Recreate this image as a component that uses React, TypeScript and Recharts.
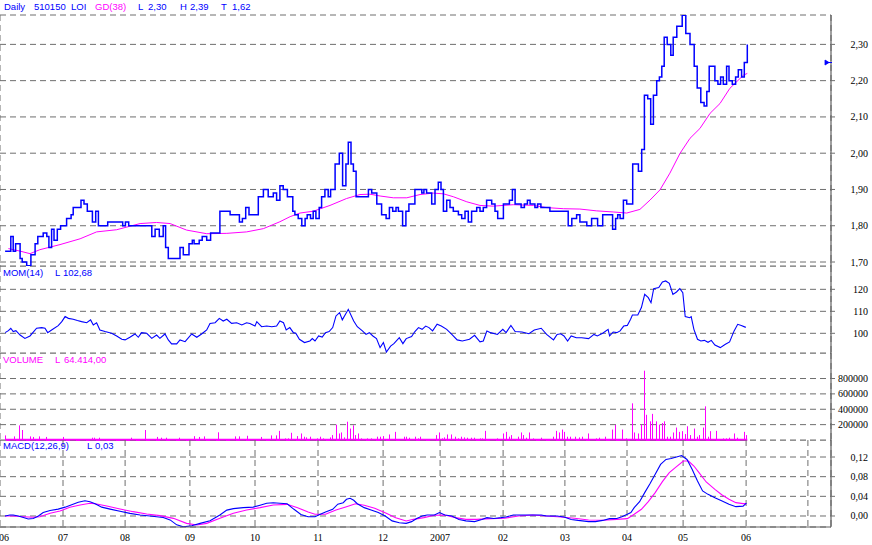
import { ComposedChart, Line, Bar, XAxis, YAxis, CartesianGrid, ReferenceLine, ReferenceDot } from "recharts"

const BLUE = "#0000ff"
const PINK = "#ff00ff"
const GRID = "#6e6e6e"
const BORDER = "#606060"
const SERIF = "'Liberation Serif', 'Times New Roman', serif"
const SANS = "'Liberation Sans', Arial, sans-serif"

// x unit = trading session (one session ~ 3px)
const monthTicks = [0, 21, 41.7, 63.3, 85, 106, 127.7, 146.7, 167.7, 188.3, 209, 227.7, 248.7, 269.3]
const monthLabels = ["06", "07", "08", "09", "10", "11", "12", "2007", "02", "03", "04", "05", "06", ""]

// close, step changes [session, price]
const close: [number, number][] = [
  [1.7, 1.73], [3.6, 1.77], [4.4, 1.73], [5.2, 1.75], [6.7, 1.71], [7.4, 1.7], [8.9, 1.69], [10.3, 1.72],
  [11.7, 1.75], [12.6, 1.77], [14.4, 1.78], [15.6, 1.77], [16.3, 1.74], [17.2, 1.79], [18, 1.76], [19.1, 1.79],
  [20.2, 1.8], [22.2, 1.82], [23.7, 1.83], [24.4, 1.85], [27, 1.87], [28, 1.86], [29.1, 1.84], [30.8, 1.81],
  [31.9, 1.84], [32.8, 1.8], [35.9, 1.81], [40.9, 1.8], [41.8, 1.81], [42.9, 1.8], [50.6, 1.77], [51.7, 1.79],
  [53.1, 1.77], [54.4, 1.8], [55.2, 1.74], [56.1, 1.71], [60, 1.74], [61.1, 1.72], [63, 1.75], [64.1, 1.76],
  [64.7, 1.75], [66.4, 1.76], [67.4, 1.77], [68.9, 1.76], [70.2, 1.78], [73.3, 1.84], [76.7, 1.83], [79.8, 1.81],
  [80.8, 1.82], [81.9, 1.85], [83, 1.83], [86.1, 1.88], [87.8, 1.9], [89.4, 1.88], [91.1, 1.89], [92.2, 1.87],
  [93.3, 1.91], [94.4, 1.9], [95.8, 1.88], [97.6, 1.84], [98.3, 1.83], [99.4, 1.82], [100.6, 1.8], [101.7, 1.82],
  [102.4, 1.83], [103.5, 1.82], [104.4, 1.84], [105.3, 1.82], [106.4, 1.85], [107.2, 1.88], [108.3, 1.9], [109.4, 1.88],
  [110.2, 1.9], [111.7, 1.97], [113.1, 2.0], [114.2, 1.91], [115.3, 1.97], [116.1, 2.03], [117, 1.97], [117.8, 1.95],
  [118.7, 1.88], [122.8, 1.9], [123.9, 1.89], [125.6, 1.86], [127.2, 1.83], [128.7, 1.82], [129.8, 1.85], [130.9, 1.84],
  [132, 1.85], [132.8, 1.84], [134.2, 1.8], [135.3, 1.84], [136.3, 1.86], [138.3, 1.9], [140.6, 1.89], [141.3, 1.9],
  [142.2, 1.89], [143.9, 1.86], [145, 1.9], [146.1, 1.92], [147, 1.9], [147.8, 1.84], [148.9, 1.87], [150, 1.85],
  [151.1, 1.84], [152.8, 1.83], [153.9, 1.82], [155, 1.84], [156.1, 1.81], [157.2, 1.84], [158.9, 1.85], [160, 1.84],
  [161.1, 1.85], [162.2, 1.87], [163.9, 1.86], [165, 1.84], [165.9, 1.82], [167.8, 1.86], [169.8, 1.87], [170.8, 1.9],
  [171.7, 1.86], [173.7, 1.85], [174.8, 1.86], [175.8, 1.87], [176.7, 1.86], [178.3, 1.85], [179.2, 1.86], [180.3, 1.85],
  [183.3, 1.84], [189.4, 1.8], [190.6, 1.82], [192.2, 1.83], [193.3, 1.81], [195.6, 1.8], [197.2, 1.82], [199.2, 1.8],
  [200.9, 1.83], [204.2, 1.79], [205.2, 1.82], [205.9, 1.83], [206.7, 1.82], [207.8, 1.87], [208.9, 1.86], [210.9, 1.97],
  [212.8, 1.95], [213.9, 2.01], [214.8, 2.16], [215.9, 2.15], [216.9, 2.08], [217.8, 2.16], [218.9, 2.2], [219.8, 2.21],
  [220.6, 2.24], [221.4, 2.32], [222.4, 2.3], [223.6, 2.27], [224.4, 2.32], [225.6, 2.35], [227.4, 2.38], [228.6, 2.33],
  [230, 2.3], [231.4, 2.24], [232.4, 2.18], [233.6, 2.14], [234.7, 2.13], [235.6, 2.17], [236.4, 2.24], [238.3, 2.2],
  [239.3, 2.19], [240.2, 2.21], [241.1, 2.19], [242.2, 2.24], [243, 2.2], [244.1, 2.19], [245.2, 2.21], [246.1, 2.23],
  [247.2, 2.21], [248.1, 2.25], [249.1, 2.3],
]

// GD(38) moving average
const gd38: [number, number][] = [
  [2.8, 1.737], [6.7, 1.73], [10, 1.723], [13.3, 1.734], [20, 1.748], [26.7, 1.764], [32.2, 1.783], [38.9, 1.789],
  [46.7, 1.806], [52.2, 1.809], [56.7, 1.806], [62.2, 1.788], [68.9, 1.778], [75.6, 1.779], [82.2, 1.783], [87.8, 1.792],
  [93.3, 1.811], [96.7, 1.825], [100, 1.835], [104.4, 1.84], [110, 1.856], [115.5, 1.875], [120, 1.886], [123.3, 1.887],
  [126.7, 1.882], [131.1, 1.877], [135.6, 1.877], [140, 1.886], [144.4, 1.89], [147.8, 1.888], [151.1, 1.88], [155.6, 1.866],
  [160, 1.856], [164.4, 1.854], [171.1, 1.858], [177.8, 1.856], [182.2, 1.85], [187.8, 1.847], [193.3, 1.846], [198.9, 1.841],
  [204.4, 1.838], [208.9, 1.835], [213.3, 1.845], [216.7, 1.871], [220, 1.899], [223.3, 1.945], [226.7, 2.0], [230, 2.041],
  [233.3, 2.068], [236.7, 2.11], [240, 2.137], [243.3, 2.179], [247.8, 2.215], [249.1, 2.22],
]

// MOM(14)
const mom14: [number, number][] = [
  [1.7, 100.3], [2.8, 101.2], [3.6, 102.3], [4.4, 100.8], [5.3, 101.2], [6.7, 99.2], [8.3, 97.7], [10, 98.8],
  [12.2, 102.3], [13.9, 102.6], [15, 102.3], [15.9, 100.3], [17.2, 101.5], [19.4, 103.5], [20.6, 105.3], [21.7, 107.6],
  [22.8, 106.8], [24.4, 106.4], [25.8, 105.8], [27.2, 105.3], [28.9, 104.8], [30.2, 106.1], [31.1, 103.8], [32.2, 104.8],
  [33.3, 101.5], [35, 100.8], [37.2, 100], [38.9, 98.8], [40.6, 97.3], [41.7, 97], [43.3, 98.2], [45, 99.7],
  [46.1, 98.2], [47.2, 100.3], [48.9, 100], [50.6, 97.7], [52.2, 99.2], [53.3, 97.7], [55, 99.7], [56.1, 97],
  [57.2, 95.2], [58.9, 95.2], [60, 97], [61.7, 96.2], [63.9, 99.7], [65.6, 98.2], [67.2, 99.7], [68.9, 101.5],
  [70, 104.5], [71.7, 104.8], [73.1, 106.8], [74.4, 105.6], [75.6, 106.4], [77.2, 104.5], [78.9, 104.8], [80.6, 103.8],
  [82.2, 104.8], [83.3, 104.5], [85, 103.3], [85.6, 105.3], [87.2, 103], [88.9, 103.3], [90.6, 103], [92.2, 103.3],
  [93.3, 105.6], [94.5, 104.8], [95.4, 101.5], [96.6, 102.6], [97.8, 100.3], [98.6, 100], [99.8, 97.3], [101.5, 95.8],
  [103.3, 96.5], [104.1, 97.6], [105, 96.5], [106.2, 98.8], [107.4, 98.3], [108.5, 100.3], [109.7, 100.8], [110.9, 102.6],
  [112, 107.9], [113.2, 109.4], [114.1, 106.1], [116.1, 110.9], [117.9, 105.6], [119.1, 103], [120.8, 101.1], [122, 99.5],
  [123.1, 100.3], [124.3, 98.8], [125.5, 97.6], [126.7, 93.5], [127.8, 95.8], [128.8, 91.5], [130.2, 94.2], [131.3, 95.3],
  [133.1, 98], [134.3, 95.3], [135.4, 97.6], [137.2, 98.5], [138.3, 100.8], [139.5, 102.6], [140.7, 101.8], [141.9, 103.3],
  [143, 102.6], [144.2, 101.1], [145.7, 104.1], [147.1, 103.3], [148.9, 101.8], [150.6, 99.5], [152.4, 97], [154.1, 96.5],
  [156.5, 97.3], [158.2, 99.1], [160, 96.1], [161.1, 96.5], [162.3, 101.1], [163.5, 100.3], [165.8, 99.5], [167.6, 101.8],
  [168.7, 100.3], [170.3, 103.6], [171.7, 100.8], [174, 100.6], [176.3, 99.8], [178.1, 101.5], [180.4, 102.3], [182.2, 99.5],
  [184.5, 97], [185.7, 99.5], [186.9, 99.8], [188, 98.8], [189.2, 96.5], [190.4, 98.8], [192.1, 98], [193.9, 98],
  [196.2, 97.6], [198, 99.5], [199.1, 98.8], [200.9, 100], [202.7, 101.8], [203.2, 98.8], [204.4, 100.6], [205.6, 100.3],
  [206.7, 101.1], [207.9, 103.3], [209.1, 103.6], [210.2, 106.4], [210.8, 108.3], [212.6, 108.3], [213.8, 111.7], [214.9, 117.7],
  [216.1, 116.2], [217, 113.9], [217.9, 120.3], [219.6, 120.8], [220.8, 123.3], [221.9, 123.8], [223.1, 122.7], [224.3, 117.7],
  [225.5, 118.8], [226.6, 120.3], [227.6, 118.5], [228.4, 107.6], [229.9, 107.1], [230.4, 107.6], [231.3, 101.8], [232.5, 97.3],
  [233.6, 96.5], [234.8, 96.8], [236, 95.9], [237.1, 96.8], [238.3, 94.7], [240.1, 93.5], [241.8, 95], [243.2, 96.1],
  [244.7, 101.1], [245.9, 104.1], [247.1, 103.6], [248.6, 102.7],
]

// daily volume [session, shares]
const volume: [number, number][] = [
  [2, 60000], [5, 47000], [6.7, 190000], [7.8, 130000], [10.3, 47000], [11.4, 40000], [13.3, 47000], [15.6, 40000],
  [21.4, 40000], [30.9, 30000], [31.7, 30000], [33.3, 30000], [43.9, 30000], [48.6, 130000], [52.8, 40000], [54, 30000],
  [55.6, 30000], [60, 30000], [65, 50000], [66.7, 40000], [68.3, 47000], [73.1, 100000], [78.6, 47000], [80, 47000],
  [82.8, 55000], [87.2, 40000], [90.6, 60000], [92.2, 60000], [93.3, 119000], [95.4, 21000], [96.3, 21000], [97.4, 94000],
  [99.4, 51000], [100.6, 85000], [101.5, 43000], [102.4, 34000], [103.5, 43000], [106, 21000], [107.1, 43000], [107.9, 21000],
  [110.3, 34000], [111.1, 64000], [112.3, 200000], [113.2, 85000], [114.1, 98000], [115.1, 34000], [116.1, 238000], [117.1, 149000],
  [118.1, 191000], [118.8, 64000], [119.8, 85000], [120.8, 21000], [122.8, 21000], [124, 21000], [125.8, 43000], [126.9, 43000],
  [128.1, 51000], [129.9, 72000], [131.9, 106000], [134.8, 43000], [135.7, 43000], [136.6, 30000], [138.6, 43000], [139.5, 21000],
  [140.4, 43000], [145.6, 64000], [146.5, 98000], [147.5, 21000], [148.3, 34000], [149.2, 72000], [150.6, 72000], [152.1, 43000],
  [153, 21000], [154.1, 43000], [155.1, 34000], [156.1, 30000], [157.2, 30000], [158.2, 30000], [160.2, 21000], [161.1, 21000],
  [162.1, 119000], [165.8, 21000], [167.9, 85000], [168.9, 106000], [169.9, 43000], [170.7, 64000], [172.8, 43000], [173.8, 98000],
  [174.7, 64000], [175.5, 30000], [176.5, 98000], [177.8, 21000], [180.6, 30000], [184.5, 43000], [185.5, 119000], [186.5, 98000],
  [187.5, 136000], [188.4, 106000], [189.4, 43000], [190.4, 43000], [192.1, 43000], [193.3, 34000], [194.2, 43000], [196.2, 85000],
  [199.1, 21000], [200.1, 30000], [202.1, 43000], [204.2, 136000], [205.2, 196000], [207.7, 136000], [208.8, 21000], [210.8, 477000],
  [211.7, 98000], [212.8, 85000], [213.8, 200000], [214.9, 902000], [215.7, 328000], [216.8, 243000], [217.6, 340000], [218.8, 243000],
  [219.8, 200000], [220.8, 221000], [221.6, 243000], [222.5, 43000], [223.5, 43000], [224.5, 98000], [225.5, 162000], [226.6, 106000],
  [227.6, 115000], [228.6, 77000], [229.4, 179000], [230.4, 64000], [231.5, 149000], [232.5, 43000], [233.4, 64000], [234.6, 162000],
  [235.2, 438000], [236.2, 43000], [237.1, 115000], [239.1, 119000], [241.2, 21000], [242.2, 21000], [243.2, 30000], [245.1, 85000],
  [246.1, 30000], [248.2, 106000], [249.1, 64000],
]

// MACD(12,26,9) line and signal
const macd: [number, number][] = [
  [1.7, 0], [3.3, 0.002], [4.4, 0.002], [6.1, 0], [7.8, -0.003], [9.4, -0.006], [11.1, -0.005], [12.8, 0],
  [14.4, 0.007], [16.7, 0.011], [19.4, 0.014], [21.7, 0.018], [23.9, 0.023], [26.1, 0.028], [28.3, 0.031], [30, 0.029],
  [31.7, 0.025], [33.9, 0.018], [36.7, 0.014], [40, 0.0095], [43.3, 0.0054], [46.7, 0.002], [50, 0], [54.4, -0.003],
  [56.7, -0.008], [58.9, -0.018], [61.1, -0.022], [63.9, -0.02], [66.7, -0.015], [70, -0.0095], [73.3, 0.002], [75.6, 0.012],
  [77.8, 0.015], [81.1, 0.017], [84.4, 0.018], [86.7, 0.022], [88.9, 0.026], [91.1, 0.027], [93.3, 0.026], [95.7, 0.025],
  [98, 0.0136], [100.3, 0.003], [102.7, -0.0014], [105, -0.0014], [106.2, 0.002], [108.5, 0.008], [110.9, 0.0136], [112.6, 0.024],
  [114.4, 0.027], [115.5, 0.034], [116.7, 0.036], [117.9, 0.032], [119.1, 0.025], [121.4, 0.017], [123.7, 0.012], [126.1, 0.007],
  [128.4, 0], [130.7, -0.01], [133.1, -0.0136], [135.4, -0.015], [137.2, -0.0115], [138.9, -0.005], [140.7, 0], [142.4, 0.002],
  [144.8, 0.002], [146.5, 0.007], [148.3, 0.002], [150.6, 0], [153, -0.007], [155.3, -0.01], [158.2, -0.0115], [160.6, -0.007],
  [162.3, -0.0034], [164.6, -0.005], [167, -0.0034], [168.7, -0.002], [171.1, 0.002], [174, 0.002], [177.5, 0.002], [180.4, 0.002],
  [182.2, 0], [185.7, 0], [188, -0.002], [190.4, -0.007], [192.7, -0.009], [196.2, -0.0115], [198.5, -0.0115], [200.9, -0.009],
  [203.2, -0.0054], [205.6, -0.005], [207.3, -0.0014], [209.1, 0.0034], [210.3, 0.007], [211.4, 0.017], [213.2, 0.029], [214.9, 0.0475],
  [216.7, 0.066], [218.4, 0.085], [220.2, 0.105], [222, 0.115], [223.7, 0.117], [225.5, 0.12], [227.2, 0.123], [229, 0.115],
  [230.7, 0.095], [232.5, 0.071], [234.2, 0.051], [236, 0.044], [238.3, 0.037], [240.7, 0.0305], [243, 0.024], [245.3, 0.019],
  [247.7, 0.02], [248.8, 0.026],
]

const signal: [number, number][] = [
  [1.7, 0], [4.4, 0], [7.8, -0.0014], [11.1, -0.0027], [13.3, -0.0014], [16.7, 0.0054], [20, 0.0102], [23.3, 0.0177],
  [26.7, 0.0224], [30, 0.0259], [32.2, 0.0245], [35.6, 0.0204], [40, 0.0143], [44.4, 0.0088], [48.9, 0.0041], [53.3, 0.0007],
  [57.8, -0.0048], [62.2, -0.015], [65.6, -0.0184], [68.9, -0.015], [73.3, -0.0048], [77.8, 0.0054], [82.2, 0.0122], [86.7, 0.017],
  [91.1, 0.0224], [95.7, 0.0237], [99.2, 0.0169], [102.7, 0.0081], [105, 0.0034], [108.5, 0.0034], [112, 0.0122], [115.5, 0.019],
  [118.5, 0.025], [121.4, 0.0217], [124.9, 0.0156], [128.4, 0.0068], [131.9, -0.0034], [135.4, -0.0102], [137.8, -0.0068], [141.3, -0.0034],
  [144.8, 0.0014], [148.3, 0.002], [151.8, -0.0034], [155.3, -0.0068], [158.8, -0.0068], [163.5, -0.0054], [168.2, -0.0047], [172.8, 0],
  [177.5, 0.002], [182.2, 0], [186.9, -0.002], [191.5, -0.0047], [196.2, -0.0081], [200.9, -0.0088], [205.6, -0.0068], [209.1, -0.0054],
  [211.4, 0.0034], [213.8, 0.0136], [216.1, 0.0292], [218.4, 0.0475], [220.8, 0.0698], [223.1, 0.0881], [225.5, 0.1003], [227.8, 0.1119],
  [229.5, 0.1119], [231.3, 0.1017], [233, 0.0881], [235.4, 0.0692], [238.3, 0.0542], [240.7, 0.0427], [243, 0.0339], [245.3, 0.0271],
  [247.7, 0.0251], [248.8, 0.0251],
]

const priceTicks = [1.7, 1.8, 1.9, 2.0, 2.1, 2.2, 2.3]
const momTicks = [100, 110, 120]
const volTicks = [200000, 400000, 600000, 800000]
const macdTicks = [0, 0.04, 0.08, 0.12]

const rows = (pts: [number, number][]) => pts.map(([d, v]) => ({ d, v }))
const comma = (n: number) => n.toFixed(2).replace(".", ",")

const X_DOMAIN: [number, number] = [0, 277]

const yTick = (fmt: (n: number) => string) => (p: any) => (
  <text x={868} y={p.y} dy={3.5} textAnchor="end" fontSize={10} fontFamily={SERIF} fill="#000">
    {fmt(p.payload.value)}
  </text>
)

const monthTick = (p: any) => {
  const first = p.index === 0
  return (
    <text x={first ? -1 : p.x} y={p.y} dy={12} textAnchor={first ? "start" : "middle"} fontSize={10} fontFamily={SERIF} fill="#000">
      {monthLabels[p.index]}
    </text>
  )
}

function axes(domain: [number, number], ticks: number[], fmt: (n: number) => string, bottom: boolean) {
  return [
    <CartesianGrid key="g" stroke={GRID} strokeDasharray="6 4" />,
    <XAxis
      key="x"
      dataKey="d"
      type="number"
      domain={X_DOMAIN}
      allowDataOverflow
      ticks={monthTicks}
      interval={0}
      height={bottom ? 18 : 0}
      tick={bottom ? monthTick : false}
      tickLine={false}
      tickSize={0}
      axisLine={{ stroke: BORDER, strokeWidth: 1.2 }}
    />,
    <YAxis
      key="y"
      orientation="right"
      width={41}
      domain={domain}
      allowDataOverflow
      ticks={ticks}
      interval={0}
      tick={yTick(fmt)}
      tickSize={4}
      tickLine={{ stroke: GRID }}
      axisLine={{ stroke: BORDER, strokeWidth: 1.2 }}
    />,
  ]
}

const flag = (p: any) => (
  <g>
    <path d={`M ${p.cx - 3} ${p.cy - 2.5} L ${p.cx + 1} ${p.cy} L ${p.cx - 3} ${p.cy + 2.5} Z`} fill={BLUE} stroke={BLUE} strokeWidth={0.8} />
    <line x1={p.cx} y1={p.cy} x2={p.cx + 4} y2={p.cy} stroke={BLUE} />
  </g>
)

function Headers() {
  return (
    <svg width={872} height={545} style={{ position: "absolute", left: 0, top: 0, pointerEvents: "none" }}>
      <g fontFamily={SANS} fontSize={9.5} fill={BLUE}>
        <text x={4} y={10}>Daily</text>
        <text x={34} y={10}>510150</text>
        <text x={71} y={10}>LOI</text>
        <text x={95} y={10} fill={PINK}>GD(38)</text>
        <text x={138} y={10}>L</text>
        <text x={148} y={10}>2,30</text>
        <text x={180} y={10}>H</text>
        <text x={190} y={10}>2,39</text>
        <text x={221} y={10}>T</text>
        <text x={232} y={10}>1,62</text>

        <text x={3} y={276}>MOM(14)</text>
        <text x={55} y={276}>L</text>
        <text x={63} y={276}>102,68</text>

        <text x={3} y={363} fill={PINK}>VOLUME</text>
        <text x={55} y={363} fill={PINK}>L</text>
        <text x={64} y={363} fill={PINK}>64.414,00</text>

        <text x={3} y={449}>MACD(12,26,9)</text>
        <text x={87} y={449}>L</text>
        <text x={95} y={449}>0,03</text>
      </g>
    </svg>
  )
}

export default function App() {
  const priceRows = rows(close)
  const gdRows = rows(gd38)
  const momRows = rows(mom14)
  const volRows = rows(volume)
  const macdRows = rows(macd)
  const sigRows = rows(signal)
  const volFirst = volume[0][0]
  const volLast = volume[volume.length - 1][0]

  return (
    <div style={{ position: "absolute", left: 0, top: 0, width: 872, height: 545, background: "#fff", overflow: "hidden" }}>
      <div style={{ position: "absolute", left: 0, top: 0 }}>
        <ComposedChart width={872} height={267} data={priceRows} margin={{ top: 15, right: 0, bottom: 1, left: 0 }}>
          {axes([1.689, 2.381], priceTicks, comma, false)}
          <Line type="linear" data={gdRows} dataKey="v" stroke={PINK} strokeWidth={1} dot={false} isAnimationActive={false} />
          <Line type="stepAfter" dataKey="v" stroke={BLUE} strokeWidth={1.5} dot={false} isAnimationActive={false} />
          <ReferenceDot x={276} y={2.25} r={3} shape={flag} />
        </ComposedChart>
      </div>
      <div style={{ position: "absolute", left: 0, top: 266 }}>
        <ComposedChart width={872} height={88} data={momRows} margin={{ top: 0, right: 0, bottom: 1, left: 0 }}>
          {axes([91.05, 130.6], momTicks, (n) => String(n), false)}
          <Line type="linear" dataKey="v" stroke={BLUE} strokeWidth={1.1} dot={false} isAnimationActive={false} />
        </ComposedChart>
      </div>
      <div style={{ position: "absolute", left: 0, top: 353 }}>
        <ComposedChart width={872} height={88} data={volRows} margin={{ top: 0, right: 0, bottom: 1, left: 0 }}>
          {axes([0, 1132000], volTicks, (n) => String(n), false)}
          <Bar
            dataKey="v"
            barSize={1}
            fill={PINK}
            isAnimationActive={false}
            shape={(p: any) => <rect x={Math.round(p.x + p.width / 2 - 0.5)} y={p.y} width={1} height={p.height} fill={PINK} />}
          />
          <ReferenceLine segment={[{ x: volFirst, y: 0 }, { x: volLast, y: 0 }]} stroke={PINK} strokeWidth={2.5} />
        </ComposedChart>
      </div>
      <div style={{ position: "absolute", left: 0, top: 440 }}>
        <ComposedChart width={872} height={105} data={macdRows} margin={{ top: 0, right: 0, bottom: 0, left: 0 }}>
          {axes([-0.0224, 0.1546], macdTicks, comma, true)}
          <Line type="linear" data={sigRows} dataKey="v" stroke={PINK} strokeWidth={1.1} dot={false} isAnimationActive={false} />
          <Line type="linear" dataKey="v" stroke={BLUE} strokeWidth={1.1} dot={false} isAnimationActive={false} />
        </ComposedChart>
      </div>
      <Headers />
    </div>
  )
}
